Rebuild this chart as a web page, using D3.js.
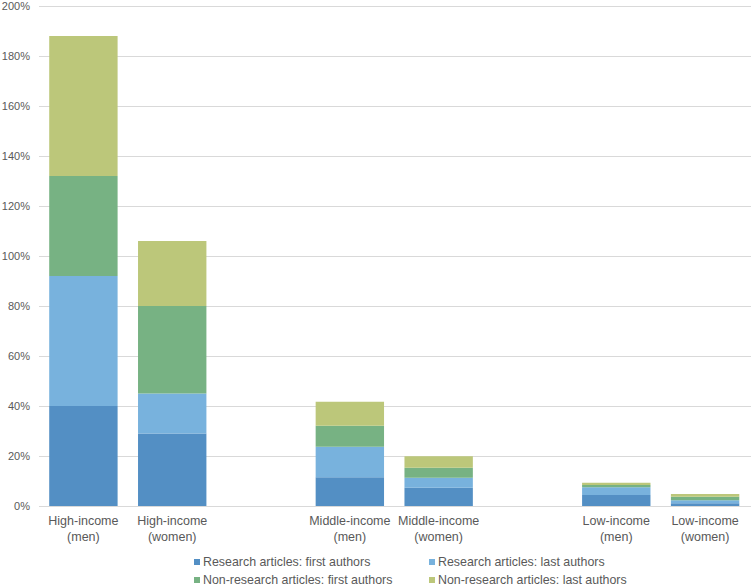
<!DOCTYPE html>
<html>
<head>
<meta charset="utf-8">
<script src="https://cdn.jsdelivr.net/npm/d3@7"></script>
<style>
    body { margin: 0; background: #fff; }
    svg { display: block; font-family: "Liberation Sans", Arial, sans-serif; }
</style>
</head>
<body>
<div id="chart"></div>
<script>
// categories (gap entries are empty slots between income groups)
var categories = ["High-income (men)", "High-income (women)", "gap1",
    "Middle-income (men)", "Middle-income (women)", "gap2",
    "Low-income (men)", "Low-income (women)"];

var seriesNames = ["Research articles: first authors", "Research articles: last authors",
    "Non-research articles: first authors", "Non-research articles: last authors"];

var researchFirst = [40, 29, 0, 11.5, 7.3, 0, 4.4, 1.1];
var researchLast = [52, 16, 0, 12.2, 4.0, 0, 3.1, 1.2];
var nonResearchFirst = [40, 35, 0, 8.4, 4.0, 0, 0.9, 1.4];
var nonResearchLast = [56, 26, 0, 9.6, 4.6, 0, 0.9, 1.1];

var yTicks = [0, 20, 40, 60, 80, 100, 120, 140, 160, 180, 200];

var colors = ["#538FC4", "#78B2DD", "#77B283", "#BCC77A"];

var width = 751, height = 587;
var textColor = "#595959";

var svg = d3.select("#chart").append("svg")
    .attr("width", width)
    .attr("height", height);

var x = d3.scaleBand()
    .domain(categories)
    .range([39, 749.5])
    .paddingInner(0.23)
    .paddingOuter(0.115);

var y = d3.scaleLinear()
    .domain([0, 200])
    .range([506, 6]);

// gridlines
svg.append("g")
    .selectAll("line")
    .data(yTicks)
    .join("line")
    .attr("x1", 39)
    .attr("x2", width)
    .attr("y1", d => y(d) + 0.5)
    .attr("y2", d => y(d) + 0.5)
    .attr("stroke", "#d9d9d9")
    .attr("stroke-width", 1);

// y tick labels
svg.append("g")
    .selectAll("text")
    .data(yTicks)
    .join("text")
    .attr("x", 30)
    .attr("y", d => y(d))
    .attr("dy", "0.35em")
    .attr("text-anchor", "end")
    .attr("font-size", 11)
    .attr("fill", textColor)
    .text(d => d + "%");

// stacked data table
var table = categories.map(function (c, i) {
    return {
        cat: c,
        s0: researchFirst[i],
        s1: researchLast[i],
        s2: nonResearchFirst[i],
        s3: nonResearchLast[i]
    };
});

var stacked = d3.stack().keys(["s0", "s1", "s2", "s3"])(table);

svg.append("g")
    .selectAll("g")
    .data(stacked)
    .join("g")
    .attr("fill", (d, i) => colors[i])
    .selectAll("rect")
    .data(d => d.filter(p => p[1] - p[0] > 0))
    .join("rect")
    .attr("x", d => x(d.data.cat))
    .attr("width", x.bandwidth())
    .attr("y", d => y(d[1]))
    .attr("height", d => y(d[0]) - y(d[1]));

// x labels
var xl = svg.append("g")
    .selectAll("text")
    .data(categories.filter(c => c.indexOf("gap") !== 0))
    .join("text")
    .attr("text-anchor", "middle")
    .attr("font-size", 12.5)
    .attr("fill", textColor);

xl.append("tspan")
    .attr("x", d => x(d) + x.bandwidth() / 2)
    .attr("y", 525)
    .text(d => d.split(" (")[0]);

xl.append("tspan")
    .attr("x", d => x(d) + x.bandwidth() / 2)
    .attr("y", 541)
    .text(d => "(" + d.split(" (")[1]);

// legend
var legendPos = [[194, 562], [429, 562], [194, 580], [429, 580]];

var legend = svg.append("g")
    .selectAll("g")
    .data(seriesNames)
    .join("g")
    .attr("transform", (d, i) => "translate(" + legendPos[i][0] + "," + legendPos[i][1] + ")");

legend.append("rect")
    .attr("x", 0)
    .attr("y", -3)
    .attr("width", 6)
    .attr("height", 6)
    .attr("fill", (d, i) => colors[i]);

legend.append("text")
    .attr("x", 9)
    .attr("y", 0)
    .attr("dy", "0.35em")
    .attr("font-size", 12.4)
    .attr("fill", textColor)
    .text(d => d);
</script>
</body>
</html>
